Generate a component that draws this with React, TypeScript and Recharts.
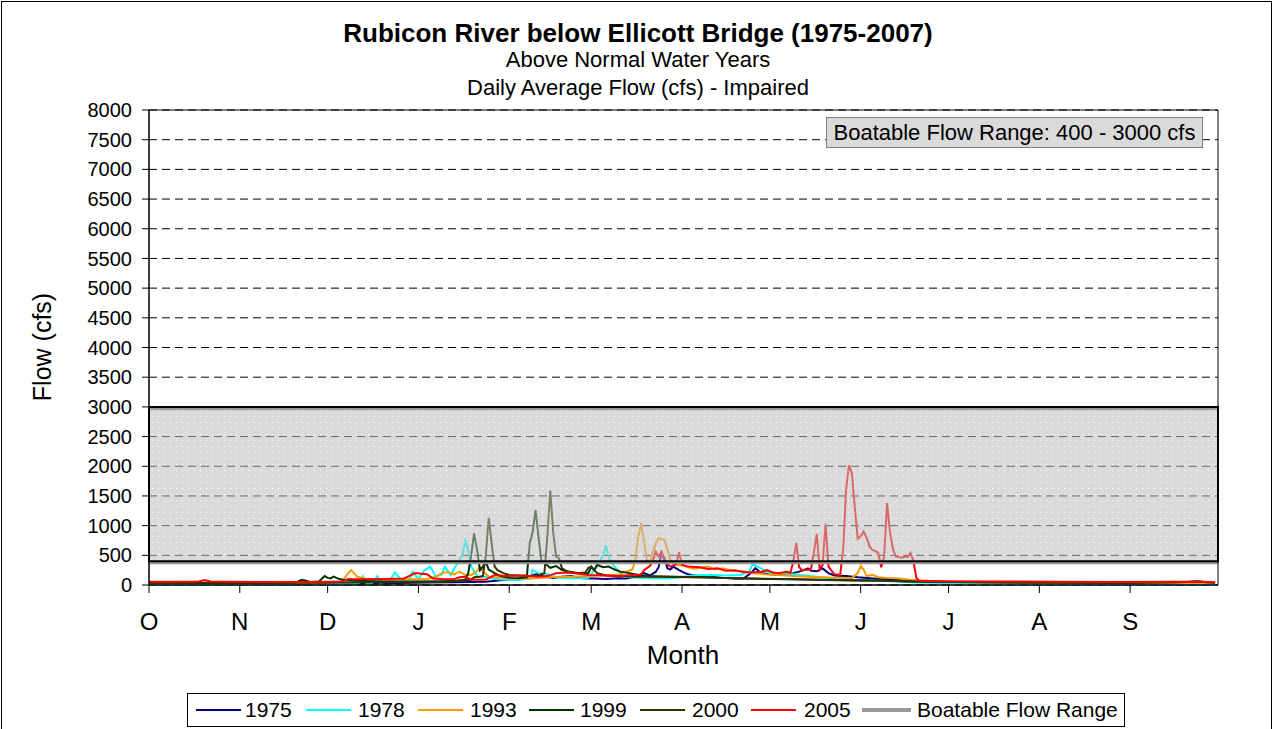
import React from "react";
import {
  LineChart,
  Line,
  XAxis,
  YAxis,
  CartesianGrid,
  ReferenceArea,
  ReferenceLine,
} from "recharts";

// ---- categories / ticks ----
const monthTickDays = [0, 31, 61, 92, 123, 151, 182, 212, 243, 273, 304, 335];
const monthLabels = ["O", "N", "D", "J", "F", "M", "A", "M", "J", "J", "A", "S"];
const flowTicks = [0, 500, 1000, 1500, 2000, 2500, 3000, 3500, 4000, 4500, 5000, 5500, 6000, 6500, 7000, 7500, 8000];
const boatableLow = 400;
const boatableHigh = 3000;

// ---- series values: [day of water year, daily average flow cfs] ----
const flow1975: [number, number][] = [
  [0, 30], [20, 25], [40, 20], [60, 25], [63, 55], [66, 30], [80, 30], [95, 40], [105, 45], [115, 55],
  [120, 80], [125, 90], [128, 110], [131, 170], [133, 185], [135, 140], [138, 120], [141, 140], [144, 150],
  [148, 115], [152, 110], [156, 100], [160, 115], [163, 110], [166, 140], [169, 200], [171, 160], [173, 220],
  [174, 300], [175, 550], [176, 450], [177, 280], [178, 260], [179, 310], [181, 250], [183, 200], [185, 170],
  [188, 150], [192, 140], [196, 120], [200, 110], [203, 110], [206, 220], [207, 285], [209, 200], [212, 180],
  [215, 170], [218, 180], [220, 200], [222, 225], [224, 260], [225, 280], [226, 240], [228, 230], [230, 280],
  [232, 200], [234, 160], [238, 150], [242, 130], [246, 115], [250, 100], [255, 90], [260, 70], [270, 50],
  [285, 40], [300, 35], [330, 30], [364, 30],
];
const flow1978: [number, number][] = [
  [0, 15], [20, 12], [40, 10], [50, 10], [52, 85], [54, 20], [60, 15], [70, 20], [72, 40], [73, 150], [74, 40],
  [76, 20], [78, 150], [79, 40], [82, 60], [84, 210], [86, 90], [89, 100], [90, 220], [92, 100], [94, 250],
  [96, 310], [98, 140], [100, 180], [101, 310], [103, 170], [105, 340], [107, 500], [108, 740], [109, 600],
  [110, 310], [112, 150], [115, 140], [118, 100], [122, 90], [126, 85], [130, 110], [131, 250], [133, 200],
  [136, 180], [140, 120], [145, 110], [150, 120], [152, 250], [153, 310], [155, 500], [156, 670], [157, 450],
  [158, 370], [160, 250], [162, 140], [167, 120], [172, 115], [177, 110], [182, 130], [186, 160], [192, 170],
  [197, 160], [202, 170], [205, 230], [206, 350], [207, 330], [209, 280], [212, 200], [218, 190], [224, 160],
  [230, 130], [238, 90], [250, 70], [262, 40], [280, 25], [300, 20], [330, 15], [364, 15],
];
const flow1993: [number, number][] = [
  [0, 35], [30, 30], [60, 35], [66, 60], [68, 200], [69, 250], [70, 200], [71, 140], [74, 100], [80, 90],
  [90, 95], [95, 100], [98, 140], [100, 200], [102, 220], [104, 180], [106, 225], [108, 170], [110, 170],
  [112, 230], [113, 310], [114, 230], [116, 140], [120, 120], [125, 110], [130, 110], [135, 120], [140, 140],
  [145, 140], [150, 150], [155, 170], [160, 170], [163, 230], [165, 260], [166, 400], [167, 800], [168, 1040],
  [169, 750], [170, 420], [171, 350], [172, 550], [173, 700], [174, 790], [175, 770], [176, 760], [177, 600],
  [178, 420], [180, 340], [183, 320], [186, 270], [189, 300], [191, 310], [193, 260], [196, 280], [199, 240],
  [203, 230], [206, 200], [210, 180], [215, 170], [220, 150], [225, 140], [230, 130], [235, 120], [240, 115],
  [242, 200], [243, 320], [244, 260], [245, 150], [247, 170], [249, 130], [252, 120], [256, 110], [260, 90],
  [266, 70], [275, 50], [300, 40], [330, 35], [364, 35],
];
const flow1999: [number, number][] = [
  [0, 40], [20, 35], [40, 35], [50, 40], [52, 85], [53, 80], [55, 50], [58, 60], [60, 150], [61, 120],
  [62, 110], [63, 140], [64, 120], [65, 100], [67, 80], [70, 70], [80, 60], [90, 60], [100, 65], [105, 70],
  [108, 90], [109, 200], [110, 500], [111, 870], [112, 600], [113, 250], [114, 310], [115, 390], [116, 260],
  [118, 200], [120, 150], [123, 120], [126, 115], [129, 130], [130, 700], [131, 900], [132, 1260], [133, 800],
  [134, 400], [135, 370], [137, 290], [139, 320], [141, 250], [144, 220], [147, 200], [150, 200], [151, 310],
  [152, 250], [153, 340], [155, 300], [157, 310], [159, 260], [161, 225], [164, 200], [167, 170], [170, 150],
  [175, 145], [180, 140], [185, 135], [190, 130], [195, 120], [200, 115], [205, 110], [210, 105], [215, 100],
  [220, 95], [230, 90], [240, 80], [250, 75], [260, 60], [275, 50], [300, 40], [330, 40], [350, 45], [358, 60],
  [362, 45], [364, 40],
];
const flow2000: [number, number][] = [
  [0, 40], [30, 40], [60, 40], [80, 45], [100, 50], [110, 90], [111, 130], [113, 140], [114, 150], [115, 500],
  [116, 1130], [117, 700], [118, 310], [119, 250], [121, 200], [123, 170], [126, 160], [130, 150], [133, 160],
  [135, 200], [136, 800], [137, 1590], [138, 900], [139, 480], [140, 450], [141, 280], [143, 220], [146, 200],
  [149, 210], [150, 290], [151, 310], [153, 200], [156, 160], [160, 150], [165, 140], [170, 140], [175, 140],
  [180, 135], [190, 125], [200, 115], [210, 100], [220, 95], [230, 85], [240, 75], [250, 70], [260, 60],
  [275, 50], [300, 40], [330, 35], [355, 50], [358, 65], [361, 45], [364, 40],
];
const flow2005: [number, number][] = [
  [0, 55], [10, 55], [17, 60], [19, 85], [21, 60], [40, 50], [55, 50], [66, 60], [68, 100], [70, 95], [80, 100],
  [87, 110], [91, 200], [93, 190], [95, 180], [97, 110], [100, 100], [104, 95], [106, 130], [108, 140],
  [110, 90], [115, 90], [118, 170], [122, 150], [128, 160], [133, 140], [136, 150], [139, 200], [143, 210],
  [147, 190], [150, 170], [155, 160], [160, 150], [165, 170], [168, 175], [169, 250], [171, 320], [172, 400],
  [173, 560], [174, 480], [175, 560], [176, 390], [178, 310], [180, 350], [181, 550], [182, 340], [184, 310],
  [188, 300], [191, 270], [194, 280], [197, 240], [200, 250], [203, 220], [206, 210], [209, 225], [211, 250],
  [213, 210], [215, 200], [218, 225], [219, 200], [220, 400], [221, 710], [222, 300], [223, 250], [226, 260],
  [227, 550], [228, 860], [229, 260], [230, 340], [231, 1030], [232, 310], [234, 180], [236, 170], [237, 600],
  [238, 1600], [239, 2020], [240, 1880], [241, 1300], [242, 780], [243, 820], [244, 900], [245, 800],
  [246, 650], [247, 590], [248, 570], [249, 540], [250, 300], [251, 480], [252, 1380], [253, 900], [254, 600],
  [255, 480], [256, 470], [257, 460], [258, 480], [259, 470], [260, 540], [261, 400], [262, 120], [263, 70],
  [270, 65], [290, 60], [310, 55], [330, 50], [350, 55], [364, 50],
];

const seriesNames = ["1975", "1978", "1993", "1999", "2000", "2005"];
const seriesValues = [flow1975, flow1978, flow1993, flow1999, flow2000, flow2005];
const seriesColors = ["#000080", "#00ffff", "#ff9900", "#003300", "#333300", "#ff0000"];
const boatableName = "Boatable Flow Range";
const boatableColor = "#999999";

const FONT = "'Liberation Sans', Arial, Helvetica, sans-serif";

const toData = (arr: [number, number][]) => arr.map(([day, flow]) => ({ day, flow }));

const legendPos = [
  { line: 196, text: 245 },
  { line: 306, text: 358 },
  { line: 418, text: 470 },
  { line: 529, text: 580 },
  { line: 640, text: 692 },
  { line: 751, text: 804 },
];

export default function App() {
  const abs = (o: React.CSSProperties): React.CSSProperties => ({ position: "absolute", ...o });
  return (
    <div
      style={{
        position: "fixed",
        left: 0,
        top: 0,
        width: 1276,
        height: 729,
        overflow: "hidden",
        background: "#fff",
        fontFamily: FONT,
        color: "#000",
      }}
    >
      <div style={abs({ left: 1, top: 1, width: 1271, height: 760, border: "1px solid #000", boxSizing: "border-box" })} />
      <div style={abs({ left: 0, width: 1276, top: 17, textAlign: "center", fontSize: 26, fontWeight: "bold", lineHeight: "32px" })}>
        Rubicon River below Ellicott Bridge (1975-2007)
      </div>
      <div style={abs({ left: 0, width: 1276, top: 47, textAlign: "center", fontSize: 22, lineHeight: "26px" })}>
        Above Normal Water Years
      </div>
      <div style={abs({ left: 0, width: 1276, top: 75, textAlign: "center", fontSize: 22, lineHeight: "26px" })}>
        Daily Average Flow (cfs) - Impaired
      </div>

      <div style={abs({ left: 0, top: 0 })}>
        <LineChart
          width={1276}
          height={729}
          margin={{ top: 110, right: 58, bottom: 84, left: 0 }}
        >
          <defs>
            <pattern id="boatDots" width="6" height="6" patternUnits="userSpaceOnUse">
              <rect x="0" y="0" width="6" height="6" fill="#bcbcbc" />
              <rect x="2" y="2" width="1" height="1" fill="#ffffff" />
            </pattern>
          </defs>
          <CartesianGrid vertical={false} stroke="#000" strokeDasharray="8 5" />
          <XAxis
            dataKey="day"
            type="number"
            domain={[0, 365]}
            ticks={monthTickDays}
            interval={0}
            allowDataOverflow
            tickFormatter={(v: number) => monthLabels[monthTickDays.indexOf(v)] ?? ""}
            height={60}
            tickSize={8}
            tickMargin={20}
            stroke="#000"
            tick={{ fill: "#000", fontSize: 24, fontFamily: FONT }}
          />
          <YAxis
            type="number"
            domain={[0, 8000]}
            ticks={flowTicks}
            interval={0}
            width={149}
            tickSize={7}
            tickMargin={10}
            stroke="#000"
            tick={{ fill: "#000", fontSize: 20, fontFamily: FONT }}
          />
          {seriesNames.map((name, i) => (
            <Line
              key={name}
              name={name}
              data={toData(seriesValues[i])}
              dataKey="flow"
              type="linear"
              stroke={seriesColors[i]}
              strokeWidth={2}
              dot={false}
              activeDot={false}
              isAnimationActive={false}
            />
          ))}
          <ReferenceArea
            y1={boatableLow}
            y2={boatableHigh}
            fill="url(#boatDots)"
            fillOpacity={0.55}
            stroke="none"
            zIndex={450}
          />
          <ReferenceLine y={boatableHigh - 30} stroke={boatableColor} strokeWidth={3} zIndex={455} />
          <ReferenceLine y={boatableLow - 25} stroke={boatableColor} strokeWidth={3} zIndex={455} />
          <ReferenceArea
            y1={boatableLow}
            y2={boatableHigh}
            fill="none"
            stroke="#000"
            strokeWidth={2}
            zIndex={460}
          />
          <ReferenceArea y1={0} y2={8000} fill="none" stroke="#000" strokeWidth={1} zIndex={470} />
        </LineChart>
      </div>

      <div
        style={abs({
          left: 826,
          top: 117,
          width: 377,
          height: 31,
          background: "#dadada",
          border: "1px solid #808080",
          boxSizing: "border-box",
          fontSize: 22,
          lineHeight: "29px",
          textAlign: "center",
        })}
      >
        Boatable Flow Range: 400 - 3000 cfs
      </div>

      <div
        style={abs({
          left: 42 - 80,
          top: 347 - 15,
          width: 160,
          height: 30,
          textAlign: "center",
          fontSize: 25,
          lineHeight: "30px",
          transform: "rotate(-90deg)",
          transformOrigin: "80px 15px",
          whiteSpace: "nowrap",
        })}
      >
        Flow (cfs)
      </div>
      <div style={abs({ left: 583, width: 200, top: 640, textAlign: "center", fontSize: 26, lineHeight: "30px" })}>Month</div>

      <div
        style={abs({
          left: 187,
          top: 693,
          width: 938,
          height: 34,
          border: "1px solid #000",
          boxSizing: "border-box",
          background: "#fff",
        })}
      />
      {seriesNames.map((name, i) => (
        <React.Fragment key={name}>
          <div style={abs({ left: legendPos[i].line, top: 709, width: 45, height: 2, background: seriesColors[i] })} />
          <div style={abs({ left: legendPos[i].text, top: 697, fontSize: 21, lineHeight: "26px", whiteSpace: "nowrap" })}>{name}</div>
        </React.Fragment>
      ))}
      <div style={abs({ left: 862, top: 708, width: 49, height: 4, background: boatableColor })} />
      <div style={abs({ left: 917, top: 697, fontSize: 21, lineHeight: "26px", whiteSpace: "nowrap" })}>{boatableName}</div>
    </div>
  );
}
